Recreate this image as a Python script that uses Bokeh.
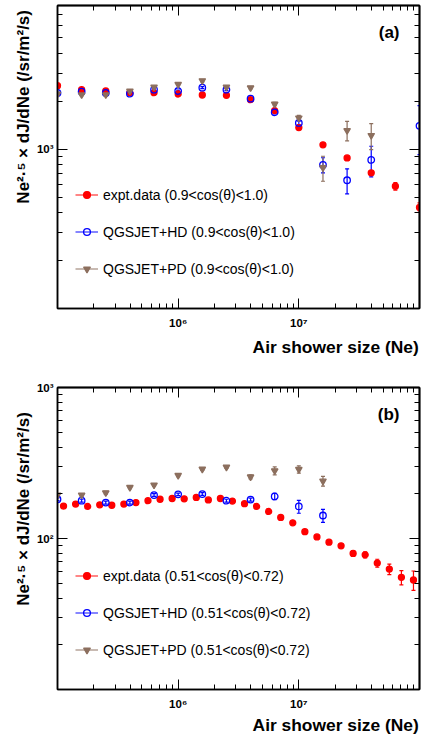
import math
from bokeh.plotting import figure
from bokeh.models import (ColumnDataSource, Whisker, TeeHead, Label, Legend, LegendItem,
                          LogAxis, FixedTicker, LogTickFormatter, Range1d, CustomJSTickFormatter)
from bokeh.layouts import column, row
from bokeh.core.properties import value
from bokeh.embed import file_html
from bokeh.resources import INLINE

# ---------------- data ----------------
ne_grid = [1.0e5, 1.585e5, 2.512e5, 3.981e5, 6.310e5,
           1.0e6, 1.585e6, 2.512e6, 3.981e6, 6.310e6,
           1.0e7, 1.585e7, 2.512e7, 3.981e7, 6.310e7, 1.0e8]

# panel (a): 0.9 < cos(theta) < 1.0
a_expt_ne = ne_grid
a_expt_y = [2507, 2368, 2323, 2266, 2266, 2224, 2193, 2181, 2050, 1750, 1368, 1066, 883, 711, 586, 431]
a_expt_err = [30, 25, 25, 22, 22, 22, 22, 22, 22, 20, 20, 18, 18, 16, 32, 30]

a_hd_ne = [1.0e5, 1.585e5, 2.512e5, 3.981e5, 6.310e5, 1.0e6, 1.585e6, 2.512e6, 3.981e6,
           6.310e6, 1.0e7, 1.585e7, 2.512e7, 3.981e7, 1.0e8]
a_hd_y = [2258, 2301, 2258, 2234, 2368, 2323, 2437, 2368, 2079, 1706, 1464, 798, 639, 858, 1403]
a_hd_err = [25, 25, 25, 25, 30, 30, 35, 35, 35, 35, 40, 87, 115, 187, 477]

a_pd_ne = [1.0e5, 1.585e5, 2.512e5, 3.981e5, 6.310e5, 1.0e6, 1.585e6, 2.512e6, 3.981e6,
           6.310e6, 1.0e7, 1.585e7, 2.512e7, 3.981e7]
a_pd_y = [2224, 2200, 2200, 2323, 2461, 2557, 2698, 2461, 2437, 1926, 1574, 767, 1313, 1222]
a_pd_err = [30, 30, 30, 35, 40, 40, 45, 40, 40, 45, 57, 137, 185, 226]

# panel (b): 0.51 < cos(theta) < 0.72
b_expt_ne = [1.122e5, 1.413e5, 1.778e5, 2.239e5, 2.818e5, 3.548e5, 4.467e5, 5.623e5, 7.079e5, 8.913e5,
             1.122e6, 1.413e6, 1.778e6, 2.239e6, 2.818e6, 3.548e6, 4.467e6, 5.623e6, 7.079e6, 8.913e6,
             1.122e7, 1.413e7, 1.778e7, 2.239e7, 2.818e7, 3.548e7, 4.467e7, 5.623e7, 7.079e7, 8.913e7]
b_expt_y = [164, 169, 163, 167, 166, 169, 173, 178, 182, 184,
            183, 187, 180, 184, 177, 170, 163, 151, 138, 127,
            111, 102.5, 94.5, 89.4, 79.6, 78, 68.7, 62.7, 55.3, 53.1]
b_expt_err = [2, 2, 2, 2, 2, 2, 2, 2, 2, 2,
              2, 2, 2, 2, 2, 2, 2, 2, 2, 2,
              2, 2, 2.2, 2.5, 3.6, 3.5, 4.2, 5, 6, 7.8]

b_hd_ne = [1.0e5, 1.585e5, 2.512e5, 3.981e5, 6.310e5, 1.0e6, 1.585e6, 2.512e6, 3.981e6,
           6.310e6, 1.0e7, 1.585e7]
b_hd_y = [182, 178, 173, 173, 194, 196, 197, 178, 181, 190, 163, 142]
b_hd_err = [4, 4, 4, 4, 4, 4, 4, 4, 4, 9, 16, 14]

b_pd_ne = b_hd_ne
b_pd_y = [194, 194, 201, 218, 226, 262, 288, 297, 256, 281, 287, 240]
b_pd_err = [4, 4, 4, 4, 5, 5, 5, 6, 8, 17, 16, 18]

x_major = [1e6, 1e7]
x_major_labels = {1e6: "10\u2076", 1e7: "10\u2077"}
x_minor = [2e5, 3e5, 4e5, 5e5, 6e5, 7e5, 8e5, 9e5,
           2e6, 3e6, 4e6, 5e6, 6e6, 7e6, 8e6, 9e6,
           2e7, 3e7, 4e7, 5e7, 6e7, 7e7, 8e7, 9e7]
a_y_major = [1e3]
a_y_labels = {1e3: "10\u00b3"}
a_y_minor = [200, 300, 400, 500, 600, 700, 800, 900, 2000, 3000, 4000, 5000, 6000, 7000, 8000]
b_y_major = [1e2, 1e3]
b_y_labels = {1e2: "10\u00b2", 1e3: "10\u00b3"}
b_y_minor = [20, 30, 40, 50, 60, 70, 80, 90, 200, 300, 400, 500, 600, 700, 800, 900]

X_TITLE = "Air shower size (Ne)"
Y_TITLE = "Ne\u00b2\u00b7\u2075 \u00d7 dJ/dNe (/sr/m\u00b2/s)"
RED = "#ff0000"
BLUE = "#0000ff"
BROWN = "#8c6f5e"
FONT = "Liberation Sans"


def base_axis_style(ax):
    ax.axis_line_color = "black"
    ax.axis_line_width = 1.5
    ax.major_tick_line_color = "black"
    ax.minor_tick_line_color = "black"
    ax.major_tick_line_width = 1
    ax.minor_tick_line_width = 1
    ax.major_tick_in = 10
    ax.major_tick_out = 0
    ax.minor_tick_in = 5
    ax.minor_tick_out = 0


def style_main_axis(ax, major, minor, labels, standoff):
    base_axis_style(ax)
    ax.ticker = FixedTicker(ticks=major, minor_ticks=minor)
    ax.formatter = LogTickFormatter()
    ax.major_label_overrides = labels
    ax.major_label_text_font = FONT
    ax.major_label_text_font_style = "bold"
    ax.major_label_text_color = "black"
    ax.major_label_text_font_size = "11.5px"
    ax.major_label_standoff = standoff


def add_mirror_axes(p, major, minor, side):
    # label-free mirror axes: one for the minor ticks, one for the decade ticks
    for ticks, tick_len in ((minor, 5), (major, 10)):
        ax = LogAxis(ticker=FixedTicker(ticks=[], minor_ticks=ticks),
                     formatter=CustomJSTickFormatter(code="return ''"))
        base_axis_style(ax)
        ax.minor_tick_in = tick_len
        ax.major_label_standoff = 0
        p.add_layout(ax, side)


def strip(w, h):
    s = figure(width=w, height=h, x_range=Range1d(0, w), y_range=Range1d(0, h),
               x_axis_type=None, y_axis_type=None, min_border=0,
               output_backend="svg", toolbar_location=None)
    s.grid.visible = False
    s.outline_line_color = None
    s.background_fill_color = "white"
    return s


def y_title_strip(w, h, top_y, base_x):
    s = strip(w, h)
    s.text(x=[base_x], y=[top_y], text=[Y_TITLE], angle=math.pi / 2,
           text_align="right", text_baseline="alphabetic",
           text_font=value(FONT), text_font_style="bold",
           text_font_size="17px", text_color="black")
    return s


def x_title_strip(w, h, right_x, base_y):
    s = strip(w, h)
    s.text(x=[right_x], y=[base_y], text=[X_TITLE], text_align="right",
           text_baseline="alphabetic", text_font=value(FONT), text_font_style="bold",
           text_font_size="17.4px", text_color="black")
    return s


def make_panel(frame_h, yr, y_major, y_minor, y_labels, b_top, b_bottom, series, tag, cond):
    p = figure(x_axis_type="log", y_axis_type="log",
               x_range=Range1d(1e5, 1e8), y_range=Range1d(*yr),
               frame_width=362, frame_height=frame_h,
               min_border_left=24, min_border_right=3,
               min_border_top=b_top, min_border_bottom=b_bottom,
               output_backend="svg", toolbar_location=None)
    p.grid.visible = False
    p.outline_line_color = "black"
    p.outline_line_width = 1.5
    p.background_fill_color = "white"

    style_main_axis(p.xaxis[0], x_major, x_minor, x_major_labels, 8)
    style_main_axis(p.yaxis[0], y_major, y_minor, y_labels, 4)
    add_mirror_axes(p, x_major, x_minor, "above")
    add_mirror_axes(p, y_major, y_minor, "right")

    items = []
    for (xs, ys, errs, color, marker, fill, size, label) in series:
        src = ColumnDataSource(dict(x=xs, y=ys,
                                    lo=[v - e for v, e in zip(ys, errs)],
                                    hi=[v + e for v, e in zip(ys, errs)]))
        p.add_layout(Whisker(source=src, base="x", lower="lo", upper="hi", dimension="height",
                             line_color=color, line_width=1.2,
                             upper_head=TeeHead(size=4, line_color=color, line_width=1.2),
                             lower_head=TeeHead(size=4, line_color=color, line_width=1.2)))
        r = p.scatter("x", "y", source=src, marker=marker, size=size,
                      line_color=color, fill_color=fill, line_width=1.3)
        lsrc = ColumnDataSource(dict(x=[float("nan")], y=[float("nan")]))
        ln = p.line("x", "y", source=lsrc, line_color=color, line_width=1.2, line_alpha=0.8)
        items.append(LegendItem(label=label + " " + cond, renderers=[ln, r]))

    leg = Legend(items=items, location=(18, 31), orientation="vertical",
                 border_line_color=None, background_fill_alpha=0,
                 padding=0, margin=0, spacing=20,
                 glyph_height=17, glyph_width=23, label_height=17, label_standoff=5,
                 label_text_font=FONT, label_text_font_size="14px", label_text_color="black")
    p.add_layout(leg)

    p.add_layout(Label(x=342, y=frame_h - 26.5, x_units="screen", y_units="screen",
                       text=tag, text_align="right", text_baseline="middle",
                       text_font=FONT, text_font_style="bold", text_font_size="17px",
                       text_color="black"))
    return p


series_a = [
    (a_expt_ne, a_expt_y, a_expt_err, RED, "circle", RED, 6, "expt.data"),
    (a_hd_ne, a_hd_y, a_hd_err, BLUE, "circle", None, 6.5, "QGSJET+HD"),
    (a_pd_ne, a_pd_y, a_pd_err, BROWN, "inverted_triangle", BROWN, 6.5, "QGSJET+PD"),
]
series_b = [
    (b_expt_ne, b_expt_y, b_expt_err, RED, "circle", RED, 6, "expt.data"),
    (b_hd_ne, b_hd_y, b_hd_err, BLUE, "circle", None, 6.5, "QGSJET+HD"),
    (b_pd_ne, b_pd_y, b_pd_err, BROWN, "inverted_triangle", BROWN, 6.5, "QGSJET+PD"),
]

# panel (a): page rows 0..334 (frame 5..308), x title strip 334..358
pa = make_panel(303, (100, 8000), a_y_major, a_y_minor, a_y_labels, 5, 26, series_a, "(a)",
                "(0.9<cos(\u03b8)<1.0)")
ya = y_title_strip(33, 334, 329, 23.3)
xa = x_title_strip(422, 24, 418.3, 12)

# panel (b): page rows 358..713 (frame 387..689), x title strip 713..734
pb = make_panel(302, (10, 1000), b_y_major, b_y_minor, b_y_labels, 29, 24, series_b, "(b)",
                "(0.51<cos(\u03b8)<0.72)")
yb = y_title_strip(33, 355, 326, 23.3)
xb = x_title_strip(422, 21, 418.3, 10)

layout = column(row(ya, pa, spacing=0), xa, row(yb, pb, spacing=0), xb, spacing=0)
open("out.html", "w").write(file_html(layout, INLINE))
